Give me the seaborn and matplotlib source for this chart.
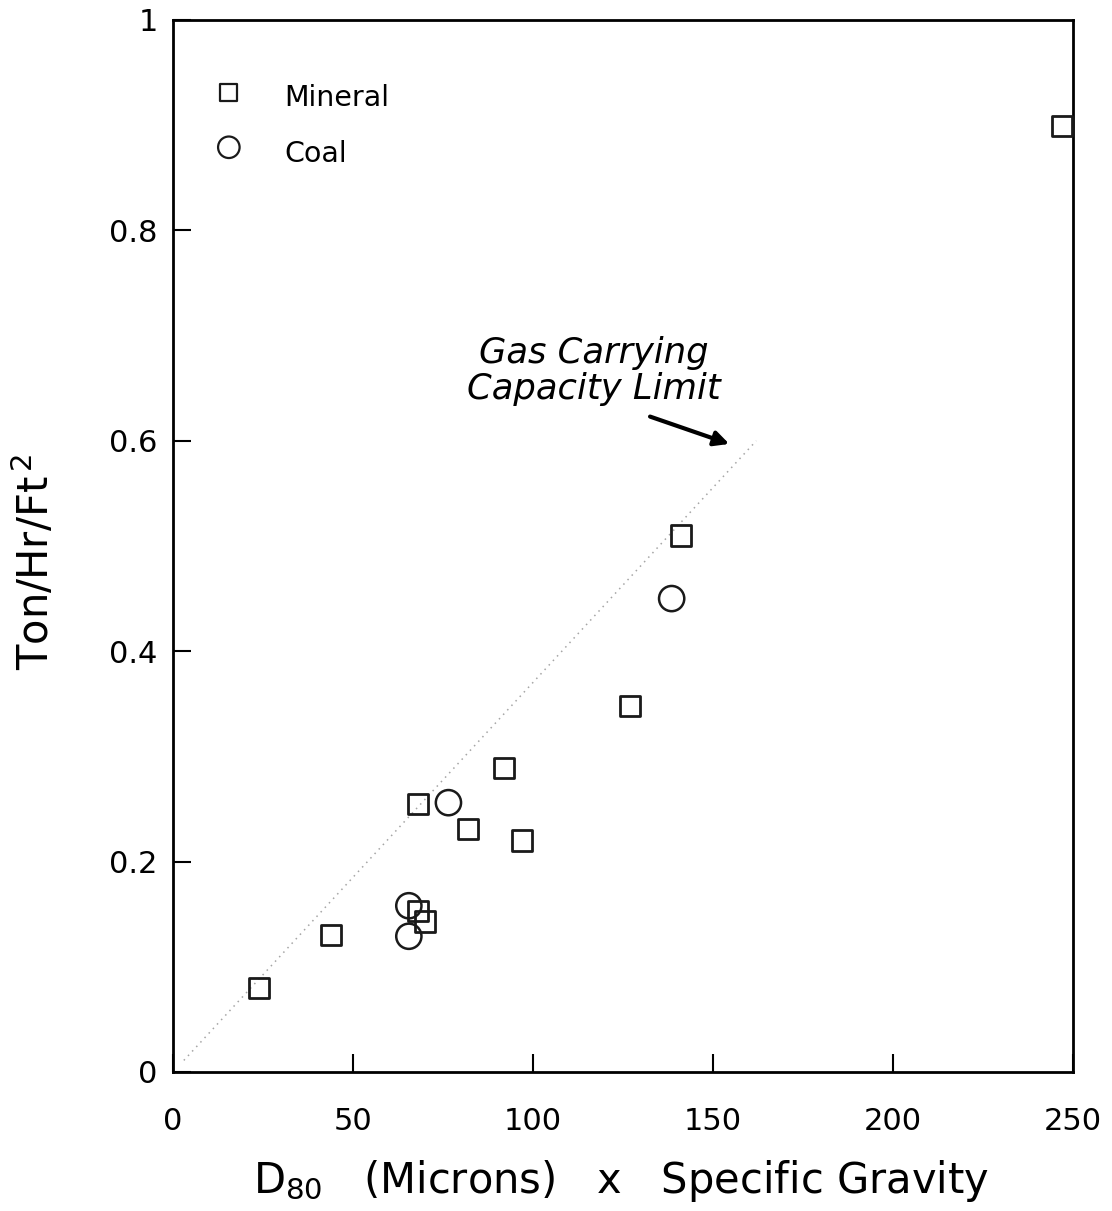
import matplotlib
matplotlib.use("Agg")
import matplotlib.pyplot as plt
import seaborn as sns
import pandas as pd

# Data
mineral_x = [24, 44, 68, 68, 70, 82, 92, 97, 127, 141, 247]
mineral_y = [0.080, 0.130, 0.255, 0.153, 0.143, 0.231, 0.289, 0.220, 0.348, 0.510, 0.899]
coal_x = [65.5, 65.5, 76.5, 138.5]
coal_y = [0.158, 0.129, 0.256, 0.450]

# gas carrying capacity limit line (end points)
limit_x = [3, 162]
limit_y = [0.011, 0.600]

x_ticks = [0, 50, 100, 150, 200, 250]
y_ticks = [0, 0.2, 0.4, 0.6, 0.8, 1]
y_tick_labels = ["0", "0.2", "0.4", "0.6", "0.8", "1"]

sns.set_style("ticks")
plt.rcParams['font.family'] = ['DejaVu Sans']
plt.rcParams['mathtext.fontset'] = 'dejavusans'
for k in ['text.color', 'axes.labelcolor', 'xtick.color', 'ytick.color', 'axes.edgecolor']:
    plt.rcParams[k] = 'black'

fig = plt.figure(figsize=(11.12, 12.11), dpi=100)
ax = fig.add_axes([0.1556, 0.1148, 0.8094, 0.8687])

mineral = pd.DataFrame({'x': mineral_x, 'y': mineral_y})
coal = pd.DataFrame({'x': coal_x, 'y': coal_y})

# faint dotted limit line
ax.plot(limit_x, limit_y, linestyle=(0, (1, 3)), color='#a5a5a5', lw=1.1, zorder=1)

sns.scatterplot(data=mineral, x='x', y='y', marker='s', s=210, facecolor='none',
                edgecolor='#1a1a1a', linewidth=2, ax=ax, zorder=3, clip_on=False)
sns.scatterplot(data=coal, x='x', y='y', marker='o', s=330, facecolor='none',
                edgecolor='#1a1a1a', linewidth=1.8, ax=ax, zorder=3, clip_on=False)

# legend drawn by hand, as in the original
ax.scatter([15.5], [0.931], marker='s', s=150, facecolor='none', edgecolor='#1a1a1a', linewidth=1.6)
ax.scatter([15.5], [0.879], marker='o', s=240, facecolor='none', edgecolor='#1a1a1a', linewidth=1.6)
ax.text(31, 0.926, 'Mineral', fontsize=20.5, va='center', ha='left')
ax.text(31, 0.873, 'Coal', fontsize=20.5, va='center', ha='left')

# annotation
ax.text(117, 0.666, 'Gas Carrying\nCapacity Limit', fontsize=25.5, style='italic',
        ha='center', va='center', linespacing=1.08)
ax.annotate('', xy=(154.5, 0.597), xytext=(132.5, 0.623),
            arrowprops=dict(arrowstyle='-|>', lw=3, color='black', mutation_scale=22,
                            shrinkA=0, shrinkB=0))

ax.set_xlim(0, 250)
ax.set_ylim(0, 1)
ax.set_xticks(x_ticks)
ax.set_yticks(y_ticks)
ax.set_yticklabels(y_tick_labels)
ax.tick_params(direction='in', length=13, width=1.5, labelsize=22, color='black')
ax.tick_params(axis='x', pad=25)
ax.tick_params(axis='y', pad=11)

for sp in ax.spines.values():
    sp.set_visible(True)
    sp.set_linewidth(2)
    sp.set_color('black')

ax.set_xlabel(r'D$_{80}$   (Microns)   x   Specific Gravity', fontsize=30)
ax.set_ylabel(r'Ton/Hr/Ft$^{\,2}$', fontsize=30)
ax.xaxis.set_label_coords(0.498, -0.082)
ax.yaxis.set_label_coords(-0.128, 0.485)

fig.savefig('out.png', dpi=100)
